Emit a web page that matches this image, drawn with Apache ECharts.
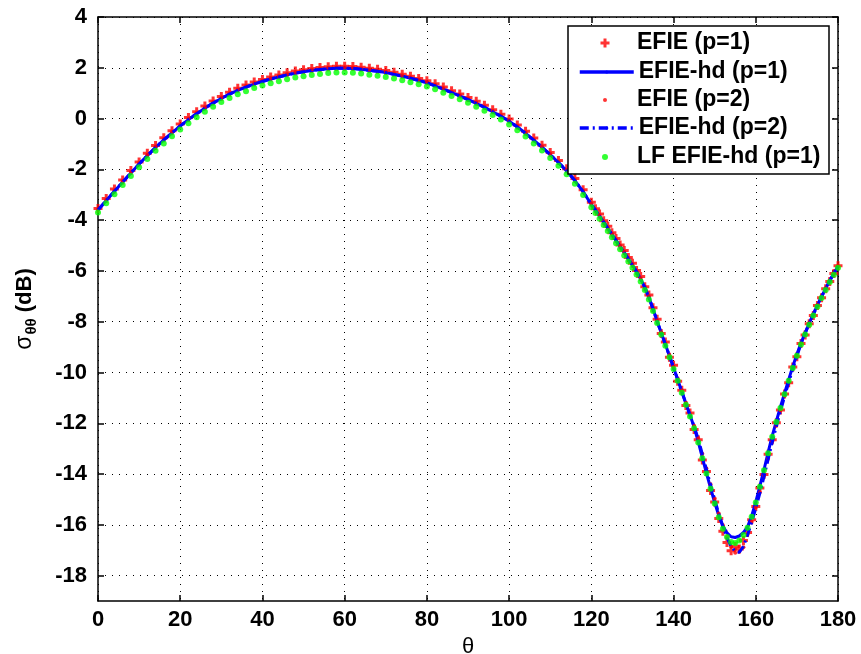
<!DOCTYPE html>
<html>
<head>
<meta charset="utf-8">
<script src="https://cdn.jsdelivr.net/npm/echarts@6/dist/echarts.min.js"></script>
<style>
html,body{margin:0;padding:0;background:#fff;}
#chart{width:861px;height:654px;}
</style>
</head>
<body>
<div id="chart"></div>
<script>
// ---- data ----
const thetaDeg = [0,2,4,6,8,10,12,14,16,18,20,22,24,26,28,30,32,34,36,38,40,42,44,46,48,50,52,54,56,58,
  60,62,64,66,68,70,72,74,76,78,80,82,84,86,88,90,92,94,96,98,100,102,104,106,108,110,112,114,116,118,
  120,121,122,123,124,125,126,127,128,129,130,131,132,133,134,135,136,137,138,139,
  140,141,142,143,144,145,146,147,148,149,150,151,152,153,154,155,156,157,158,159,
  160,161,162,163,164,165,166,167,168,169,170,171,172,173,174,175,176,177,178,179,180];

// EFIE (p=1) : red plus markers
const efieP1 = [-3.54,-3.15,-2.77,-2.42,-2.05,-1.71,-1.37,-1.06,-0.76,-0.48,
  -0.21,0.04,0.27,0.49,0.69,0.87,1.04,1.19,1.32,1.44,
  1.54,1.64,1.72,1.80,1.87,1.92,1.97,2.01,2.04,2.06,
  2.06,2.05,2.02,1.98,1.94,1.89,1.82,1.75,1.67,1.58,
  1.49,1.37,1.24,1.10,0.97,0.83,0.68,0.52,0.35,0.17,
  -0.02,-0.25,-0.50,-0.77,-1.05,-1.34,-1.65,-1.98,-2.36,-2.80,
  -3.30,-3.55,-3.76,-4.02,-4.24,-4.50,-4.72,-4.98,-5.20,-5.47,
  -5.70,-5.98,-6.22,-6.62,-6.95,-7.45,-7.90,-8.46,-8.80,-9.40,
  -9.72,-10.35,-10.70,-11.30,-11.60,-12.25,-12.65,-13.45,-13.90,-14.65,
  -15.10,-15.75,-16.25,-16.70,-17.02,-16.85,-16.95,-16.62,-16.30,-15.80,
  -15.28,-14.55,-14.02,-13.22,-12.65,-11.98,-11.48,-10.85,-10.40,-9.78,
  -9.38,-8.86,-8.52,-8.08,-7.76,-7.36,-7.06,-6.70,-6.42,-6.10,-5.80];

// EFIE-hd (p=1) : solid blue line
const efieHdP1 = [-3.60,-3.23,-2.86,-2.50,-2.14,-1.79,-1.46,-1.14,-0.84,-0.56,
  -0.29,-0.04,0.19,0.41,0.61,0.79,0.96,1.11,1.24,1.36,
  1.46,1.56,1.64,1.72,1.79,1.84,1.89,1.93,1.96,1.98,
  1.98,1.97,1.94,1.90,1.86,1.81,1.74,1.67,1.59,1.50,
  1.41,1.29,1.16,1.02,0.89,0.75,0.60,0.44,0.27,0.09,
  -0.10,-0.33,-0.58,-0.85,-1.13,-1.42,-1.73,-2.06,-2.44,-2.88,
  -3.38,-3.61,-3.84,-4.08,-4.32,-4.56,-4.80,-5.04,-5.28,-5.52,
  -5.77,-6.03,-6.32,-6.65,-7.04,-7.50,-7.98,-8.44,-8.89,-9.35,
  -9.81,-10.28,-10.75,-11.22,-11.68,-12.15,-12.72,-13.35,-13.96,-14.55,
  -15.12,-15.63,-16.05,-16.32,-16.47,-16.50,-16.44,-16.30,-16.08,-15.65,
  -15.10,-14.48,-13.83,-13.15,-12.50,-11.92,-11.36,-10.82,-10.28,-9.76,
  -9.28,-8.84,-8.44,-8.06,-7.70,-7.35,-7.01,-6.69,-6.38,-6.09,-5.82];

// EFIE (p=2) : small red dots
const efieP2 = [-3.57,-3.19,-2.82,-2.46,-2.10,-1.75,-1.42,-1.10,-0.80,-0.52,
  -0.25,0.00,0.23,0.45,0.65,0.83,1.00,1.15,1.28,1.40,
  1.50,1.60,1.68,1.76,1.83,1.88,1.93,1.97,2.00,2.02,
  2.02,2.01,1.98,1.94,1.90,1.85,1.78,1.71,1.63,1.54,
  1.45,1.33,1.20,1.06,0.93,0.79,0.64,0.48,0.31,0.13,
  -0.06,-0.29,-0.54,-0.81,-1.09,-1.38,-1.69,-2.02,-2.40,-2.84,
  -3.34,-3.58,-3.80,-4.05,-4.28,-4.53,-4.76,-5.01,-5.24,-5.49,
  -5.73,-6.00,-6.28,-6.62,-7.00,-7.47,-7.94,-8.42,-8.85,-9.32,
  -9.77,-10.25,-10.70,-11.20,-11.64,-12.10,-12.58,-13.20,-13.78,-14.40,
  -14.96,-15.55,-16.02,-16.48,-16.86,-17.10,-17.05,-16.88,-16.38,-15.88,
  -15.32,-14.72,-14.08,-13.40,-12.72,-12.10,-11.50,-10.92,-10.38,-9.85,
  -9.34,-8.86,-8.45,-8.05,-7.70,-7.34,-7.00,-6.68,-6.37,-6.08,-5.81];

// EFIE-hd (p=2) : blue dash-dot line
const efieHdP2 = [-3.60,-3.23,-2.86,-2.50,-2.14,-1.79,-1.46,-1.14,-0.84,-0.56,
  -0.29,-0.04,0.19,0.41,0.61,0.79,0.96,1.11,1.24,1.36,
  1.46,1.56,1.64,1.72,1.79,1.84,1.89,1.93,1.96,1.98,
  1.98,1.97,1.94,1.90,1.86,1.81,1.74,1.67,1.59,1.50,
  1.41,1.29,1.16,1.02,0.89,0.75,0.60,0.44,0.27,0.09,
  -0.10,-0.33,-0.58,-0.85,-1.13,-1.42,-1.73,-2.06,-2.44,-2.88,
  -3.38,-3.61,-3.84,-4.08,-4.32,-4.56,-4.80,-5.04,-5.28,-5.52,
  -5.77,-6.03,-6.32,-6.65,-7.04,-7.50,-7.98,-8.44,-8.89,-9.35,
  -9.81,-10.28,-10.75,-11.22,-11.68,-12.12,-12.62,-13.22,-13.82,-14.42,
  -15.00,-15.56,-16.06,-16.50,-16.85,-17.05,-17.08,-16.85,-16.40,-15.90,
  -15.35,-14.75,-14.10,-13.42,-12.75,-12.12,-11.52,-10.95,-10.40,-9.87,
  -9.36,-8.88,-8.46,-8.07,-7.71,-7.36,-7.02,-6.70,-6.39,-6.10,-5.83];

// LF EFIE-hd (p=1) : green dots
const lfEfieHdP1 = [-3.70,-3.34,-2.98,-2.62,-2.26,-1.92,-1.59,-1.27,-0.98,-0.70,
  -0.43,-0.18,0.05,0.27,0.47,0.65,0.81,0.96,1.08,1.20,
  1.30,1.39,1.47,1.55,1.62,1.67,1.72,1.76,1.79,1.81,
  1.81,1.80,1.77,1.73,1.69,1.64,1.58,1.51,1.43,1.35,
  1.26,1.15,1.02,0.89,0.76,0.62,0.47,0.31,0.14,-0.04,
  -0.23,-0.46,-0.71,-0.98,-1.26,-1.55,-1.86,-2.19,-2.57,-3.01,
  -3.49,-3.72,-3.95,-4.19,-4.43,-4.67,-4.91,-5.15,-5.39,-5.63,
  -5.88,-6.14,-6.42,-6.75,-7.13,-7.58,-8.05,-8.50,-8.95,-9.40,
  -9.86,-10.33,-10.80,-11.27,-11.73,-12.20,-12.76,-13.38,-13.98,-14.58,
  -15.16,-15.70,-16.15,-16.48,-16.68,-16.72,-16.62,-16.40,-16.12,-15.68,
  -15.12,-14.50,-13.85,-13.18,-12.53,-11.95,-11.40,-10.86,-10.33,-9.82,
  -9.34,-8.90,-8.50,-8.12,-7.76,-7.41,-7.07,-6.75,-6.44,-6.15,-5.88];

const xTicks = [0,20,40,60,80,100,120,140,160,180];
const yTicks = [-18,-16,-14,-12,-10,-8,-6,-4,-2,0,2,4];
const seriesNames = ['EFIE (p=1)','EFIE-hd (p=1)','EFIE (p=2)','EFIE-hd (p=2)','LF EFIE-hd (p=1)'];

// ---- chart ----
const FONT = '"Liberation Sans", Arial, Helvetica, sans-serif';
const pair = arr => thetaDeg.map((t, i) => [t, arr[i]]);
const plusPath = 'path://M2,0H4V2H6V4H4V6H2V4H0V2H2Z';
const dotted = {color:'#000', width:1, type:[1,6]};

const chart = echarts.init(document.getElementById('chart'), null, {renderer:'canvas'});

const ICON_W = 54, LEG_LEFT = 578;
const legendRows = [
  {name: seriesNames[0], top: 31, h: 9, marker: true},
  {name: seriesNames[1], top: 60, h: 4, marker: false},
  {name: seriesNames[2], top: 88, h: 4, marker: true},
  {name: seriesNames[3], top: 116, h: 4, marker: false},
  {name: seriesNames[4], top: 145, h: 6, marker: true}
];

const option = {
  backgroundColor: '#fff',
  animation: false,
  grid: {left: 98, right: 23, top: 17, bottom: 53, outerBoundsMode: 'none'},
  xAxis: [{
    type: 'value', min: 0, max: 180, interval: 20, position: 'bottom',
    axisLine: {show: true, onZero: false, lineStyle: {color: '#000', width: 1.5}},
    axisTick: {show: true, inside: true, length: 6, lineStyle: {color: '#000', width: 1.5}},
    axisLabel: {show: true, margin: 8, color: '#000', fontSize: 22, fontWeight: 'bold', fontFamily: FONT},
    splitLine: {show: true, lineStyle: dotted},
    name: 'θ', nameLocation: 'middle', nameGap: 23,
    nameTextStyle: {color: '#000', fontSize: 22, fontFamily: FONT}
  }, {
    type: 'value', min: 0, max: 180, interval: 20, position: 'top',
    axisLine: {show: true, onZero: false, lineStyle: {color: '#000', width: 1.5}},
    axisTick: {show: true, inside: true, length: 6, lineStyle: {color: '#000', width: 1.5}},
    axisLabel: {show: false}, splitLine: {show: false}
  }],
  yAxis: [{
    type: 'value', min: -19, max: 4, position: 'left',
    axisLine: {show: true, onZero: false, lineStyle: {color: '#000', width: 1.5}},
    axisTick: {show: true, inside: true, length: 6, customValues: yTicks, lineStyle: {color: '#000', width: 1.5}},
    axisLabel: {show: true, margin: 11, customValues: yTicks, color: '#000', fontSize: 22, fontWeight: 'bold', fontFamily: FONT},
    splitLine: {show: true, lineStyle: dotted},
    name: '{a|σ}{b|θθ}{c| (dB)}', nameLocation: 'middle', nameGap: 59, nameRotate: 90,
    nameTextStyle: {
      color: '#000', fontFamily: FONT,
      rich: {
        a: {fontSize: 23, fontFamily: FONT, color: '#000', lineHeight: 28, verticalAlign: 'middle'},
        b: {fontSize: 15, fontWeight: 'bold', fontFamily: FONT, color: '#000', lineHeight: 28, verticalAlign: 'bottom', padding: [0, 0, 0, 1]},
        c: {fontSize: 22, fontWeight: 'bold', fontFamily: FONT, color: '#000', lineHeight: 28, verticalAlign: 'middle'}
      }
    }
  }, {
    type: 'value', min: -19, max: 4, position: 'right',
    axisLine: {show: true, onZero: false, lineStyle: {color: '#000', width: 1.5}},
    axisTick: {show: true, inside: true, length: 6, customValues: yTicks, lineStyle: {color: '#000', width: 1.5}},
    axisLabel: {show: false, customValues: yTicks}, splitLine: {show: false}
  }],
  graphic: [{
    type: 'rect', z: 20, zlevel: 0,
    shape: {x: 568, y: 26, width: 261, height: 148},
    style: {fill: '#fff', stroke: '#000', lineWidth: 1.5}
  }],
  legend: legendRows.map(r => ({
    show: true, z: 30, orient: 'vertical', padding: 0,
    left: r.marker ? LEG_LEFT + (ICON_W - r.h) / 2 : LEG_LEFT,
    top: r.top,
    itemWidth: ICON_W, itemHeight: r.h, itemGap: 0,
    data: [r.name],
    selectedMode: false,
    lineStyle: {width: 3.5},
    textStyle: {color: '#000', fontSize: 23, fontWeight: 'bold', fontFamily: FONT, lineHeight: 24}
  })),
  series: [
    {
      name: seriesNames[0], type: 'scatter', xAxisIndex: 0, yAxisIndex: 0,
      data: pair(efieP1), symbol: plusPath, symbolSize: 9,
      itemStyle: {color: '#ff0000'}, z: 2
    },
    {
      name: seriesNames[1], type: 'line', xAxisIndex: 0, yAxisIndex: 0,
      data: pair(efieHdP1), symbol: 'none', showSymbol: false,
      lineStyle: {color: '#0000ff', width: 3}, itemStyle: {color: '#0000ff'}, z: 3
    },
    {
      name: seriesNames[2], type: 'scatter', xAxisIndex: 0, yAxisIndex: 0,
      data: pair(efieP2), symbol: 'circle', symbolSize: 4,
      itemStyle: {color: '#ff0000'}, z: 4
    },
    {
      name: seriesNames[3], type: 'line', xAxisIndex: 0, yAxisIndex: 0,
      data: pair(efieHdP2), symbol: 'none', showSymbol: false,
      lineStyle: {color: '#0000ff', width: 3, type: [9, 4, 2, 4]}, itemStyle: {color: '#0000ff'}, z: 5
    },
    {
      name: seriesNames[4], type: 'scatter', xAxisIndex: 0, yAxisIndex: 0,
      data: pair(lfEfieHdP1), symbol: 'circle', symbolSize: 6,
      itemStyle: {color: '#00ff00'}, z: 6
    }
  ]
};
chart.setOption(option);
</script>
</body>
</html>
